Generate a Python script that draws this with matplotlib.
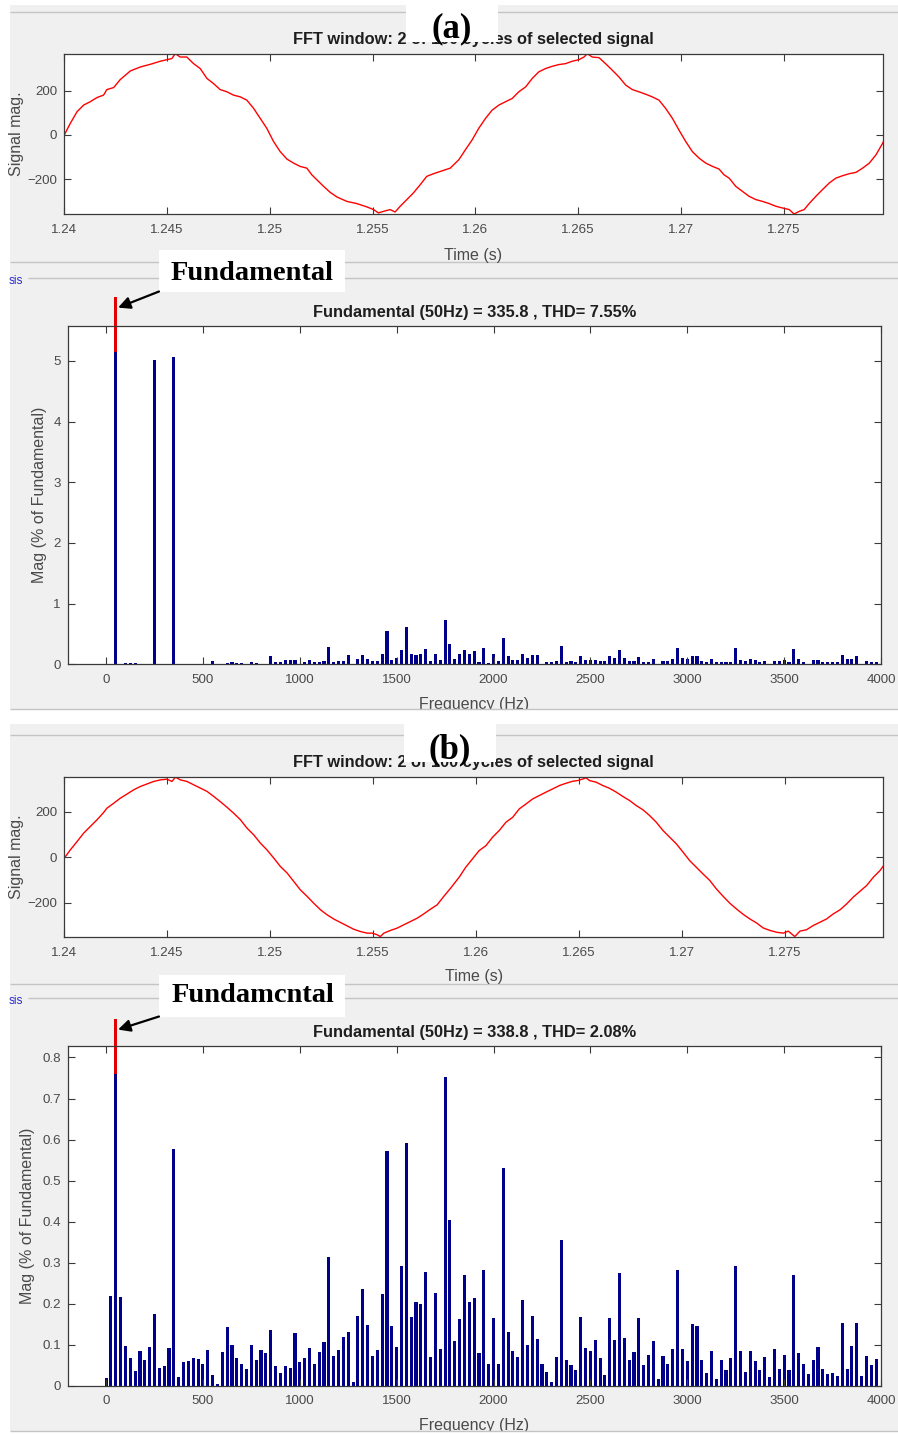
import numpy as np
import matplotlib
matplotlib.use("Agg")
import matplotlib.pyplot as plt
from matplotlib.patches import Rectangle
from matplotlib.ticker import FuncFormatter

plt.rcParams['font.family'] = ['Liberation Sans', 'DejaVu Sans']

# ---------------------------------------------------------------- data
T_START, T_END = 1.24, 1.2798
TIME_TICKS = [1.24, 1.245, 1.25, 1.255, 1.26, 1.265, 1.27, 1.275]
SIG_TICKS = [-200, 0, 200]

# (a) sampled signal: time after 1.24 s in ms, magnitude
SIG_A_MS = [0.00, 0.29, 0.62, 0.94, 1.26, 1.59, 1.91, 2.07, 2.40, 2.72,
            3.21, 3.70, 4.18, 4.67, 4.99, 5.23, 5.40, 5.64, 5.96, 6.29,
            6.61, 6.94, 7.26, 7.58, 7.91, 8.23, 8.56, 8.88, 9.21, 9.53,
            9.85, 10.18, 10.50, 10.83, 11.15, 11.47, 11.80, 12.04, 12.28, 12.61,
            12.93, 13.26, 13.74, 14.23, 14.72, 15.04, 15.28, 15.53, 15.85, 16.09,
            16.34, 16.66, 16.98, 17.31, 17.63, 17.96, 18.28, 18.77,
            19.19, 19.51, 19.84, 20.16, 20.49, 20.81, 21.14, 21.46, 21.79,
            22.11, 22.44, 22.76, 23.08, 23.41, 23.73, 24.06, 24.38, 24.71, 25.03,
            25.28, 25.44, 25.68, 26.01, 26.33, 26.66, 26.98, 27.31, 27.63, 27.95,
            28.28, 28.60, 28.93, 29.25, 29.58, 29.90, 30.23, 30.55, 30.88, 31.20,
            31.53, 31.85, 32.09, 32.34, 32.66, 32.99, 33.31, 33.64, 33.96, 34.29,
            34.61, 34.94, 35.26, 35.50, 35.75, 35.99, 36.23, 36.56, 36.88, 37.21,
            37.53, 37.86, 38.18, 38.51, 38.83, 39.16, 39.48, 39.81, 39.97]
SIG_A = [0, 52, 105, 135, 150, 169, 180, 205, 214, 250,
         289, 307, 319, 333, 340, 345, 367, 352, 352, 322,
         300, 255, 232, 205, 195, 180, 172, 157, 120, 75,
         30, -30, -75, -109, -127, -142, -150, -180, -202, -232,
         -259, -280, -300, -310, -325, -337, -352, -345, -337, -348,
         -322, -292, -262, -225, -187, -175, -165, -150,
         -112, -67, -22, 30, 75, 112, 135, 150, 165,
         195, 217, 255, 285, 300, 310, 318, 322, 333, 340,
         352, 367, 352, 349, 322, 292, 262, 225, 205, 195,
         184, 172, 157, 120, 75, 22, -30, -75, -105, -127,
         -142, -154, -180, -195, -232, -255, -277, -292, -300, -310,
         -322, -330, -337, -357, -345, -337, -310, -277, -247, -217,
         -195, -184, -175, -169, -150, -127, -90, -37, -4]

# (b) sampled signal: time after 1.24 s in ms, magnitude
SIG_B_MS = [0.00, 0.29, 0.62, 0.94, 1.26, 1.59, 1.91, 2.07, 2.40, 2.72,
            3.05, 3.37, 3.70, 4.02, 4.34, 4.67, 4.99, 5.23, 5.40, 5.64,
            5.96, 6.29, 6.61, 6.94, 7.26, 7.58, 7.91, 8.23, 8.56, 8.88,
            9.21, 9.53, 9.85, 10.18, 10.50, 10.83, 11.15, 11.47, 11.80, 12.12,
            12.45, 12.77, 13.10, 13.42, 13.74, 14.07, 14.39, 14.72, 14.96, 15.20,
            15.36, 15.53, 15.85, 16.17, 16.50, 16.82, 17.15, 17.47, 17.80, 18.12,
            18.44, 18.77,
            19.19, 19.51, 19.84, 20.16, 20.49, 20.81, 21.14, 21.46, 21.79, 22.11,
            22.44, 22.76, 23.08, 23.41, 23.73, 24.06, 24.38, 24.71, 24.95, 25.20,
            25.36, 25.52, 25.84, 26.17, 26.49, 26.82, 27.14, 27.47, 27.79, 28.12,
            28.44, 28.77, 29.09, 29.42, 29.74, 30.07, 30.39, 30.71, 31.04, 31.37,
            31.69, 32.01, 32.34, 32.66, 32.99, 33.31, 33.64, 33.96, 34.29, 34.61,
            34.94, 35.18, 35.34, 35.50, 35.75, 36.07, 36.40, 36.72, 37.05, 37.37,
            37.70, 38.02, 38.34, 38.67, 38.99, 39.32, 39.64, 39.97]
SIG_B = [-4, 32, 69, 106, 135, 165, 197, 216, 238, 260,
         279, 297, 312, 323, 334, 341, 344, 334, 353, 341,
         334, 319, 304, 290, 268, 245, 220, 194, 165, 128,
         98, 62, 32, -4, -41, -70, -107, -144, -173, -203,
         -232, -254, -273, -288, -303, -318, -328, -335, -335, -342,
         -350, -335, -323, -313, -298, -284, -269, -250, -229, -210,
         -173, -137,
         -88, -44, -7, 29, 51, 88, 118, 154, 176, 213,
         235, 257, 272, 287, 301, 316, 326, 335, 338, 345,
         350, 338, 331, 316, 304, 287, 268, 250, 228, 209,
         184, 154, 118, 88, 59, 22, -15, -44, -74, -103,
         -140, -172, -203, -228, -252, -272, -290, -312, -323, -331,
         -335, -326, -338, -350, -326, -320, -301, -287, -272, -250,
         -232, -206, -176, -150, -125, -88, -59, -18]

# harmonic spectrum, bins every 25 Hz from 0 to 3975 Hz (% of fundamental)
FREQ_STEP = 25
FUND_HZ = 50
MAG_A = [0, 0, 5.15, 0, 0.025, 0.025, 0.025, 0, 0, 0,
         5.02, 0, 0, 0, 5.07, 0, 0, 0, 0, 0,
         0, 0, 0.06, 0, 0, 0.018, 0.033, 0.022, 0.022, 0,
         0.038, 0.022, 0, 0, 0.13, 0.033, 0.038, 0.066, 0.071, 0.071,
         0, 0.044, 0.066, 0.044, 0.03, 0.055, 0.29, 0.044, 0.06, 0.06,
         0.16, 0, 0.088, 0.16, 0.08, 0.055, 0.055, 0.165, 0.55, 0.066,
         0.11, 0.23, 0.615, 0.165, 0.15, 0.165, 0.25, 0.055, 0.165, 0.077,
         0.725, 0.33, 0.088, 0.165, 0.23, 0.165, 0.22, 0.044, 0.27, 0.022,
         0.165, 0.055, 0.44, 0.13, 0.077, 0.077, 0.165, 0.11, 0.15, 0.15,
         0.01, 0.033, 0.033, 0.055, 0.30, 0.044, 0.055, 0.044, 0.143, 0.077,
         0.077, 0.066, 0.055, 0.055, 0.143, 0.11, 0.24, 0.11, 0.055, 0.055,
         0.12, 0.044, 0.044, 0.082, 0, 0.055, 0.055, 0.082, 0.27, 0.11,
         0.088, 0.143, 0.13, 0.055, 0.044, 0.088, 0.033, 0.033, 0.033, 0.033,
         0.27, 0.066, 0.055, 0.082, 0.066, 0.044, 0.055, 0, 0.055, 0.055,
         0.077, 0.044, 0.25, 0.088, 0.044, 0, 0.066, 0.066, 0.033, 0.033,
         0.033, 0.044, 0.148, 0.082, 0.088, 0.143, 0, 0.055, 0.044, 0.044]
MAG_B = [0.018, 0.2185, 0.76, 0.215, 0.0975, 0.068, 0.0366, 0.0845, 0.063, 0.095,
         0.175, 0.044, 0.049, 0.092, 0.576, 0.020, 0.057, 0.060, 0.068, 0.065,
         0.052, 0.087, 0.025, 0.004, 0.082, 0.142, 0.10, 0.068, 0.052, 0.041,
         0.10, 0.0625, 0.087, 0.079, 0.135, 0.049, 0.031, 0.047, 0.044, 0.129,
         0.057, 0.068, 0.092, 0.054, 0.082, 0.106, 0.3135, 0.073, 0.087, 0.119,
         0.132, 0.01, 0.17, 0.236, 0.149, 0.073, 0.087, 0.223, 0.573, 0.145,
         0.095, 0.292, 0.592, 0.1665, 0.204, 0.2, 0.276, 0.071, 0.225, 0.089,
         0.752, 0.405, 0.109, 0.162, 0.269, 0.204, 0.213, 0.079, 0.282, 0.052,
         0.164, 0.052, 0.531, 0.1316, 0.0845, 0.0707, 0.209, 0.10, 0.17, 0.114,
         0.052, 0.033, 0.009, 0.0707, 0.355, 0.0625, 0.0495, 0.039, 0.1665, 0.0926,
         0.0845, 0.111, 0.068, 0.025, 0.164, 0.111, 0.274, 0.116, 0.063, 0.082,
         0.164, 0.0495, 0.076, 0.108, 0.017, 0.073, 0.052, 0.089, 0.282, 0.089,
         0.060, 0.1495, 0.145, 0.063, 0.031, 0.0845, 0.017, 0.063, 0.039, 0.068,
         0.292, 0.0845, 0.033, 0.0845, 0.06, 0.039, 0.0707, 0.020, 0.089, 0.041,
         0.076, 0.039, 0.269, 0.079, 0.052, 0.028, 0.0625, 0.095, 0.041, 0.028,
         0.031, 0.023, 0.152, 0.041, 0.0975, 0.154, 0.023, 0.073, 0.0495, 0.065]
# the fundamental bar runs past the axes; red marks the part above the harmonics
FUND_TOP_A = 6.06
FUND_TOP_B = 0.895

FREQ_TICKS = [0, 500, 1000, 1500, 2000, 2500, 3000, 3500, 4000]
MAG_TICKS_A = [0, 1, 2, 3, 4, 5]
MAG_TICKS_B = [0, 0.1, 0.2, 0.3, 0.4, 0.5, 0.6, 0.7, 0.8]

TITLE_TIME = "FFT window: 2 of 100 cycles of selected signal"
TITLE_FFT_A = "Fundamental (50Hz) = 335.8 , THD= 7.55%"
TITLE_FFT_B = "Fundamental (50Hz) = 338.8 , THD= 2.08%"

# ---------------------------------------------------------------- style
PANEL = '#f0f0f0'
SEP = '#c4c4c4'
AXC = '#3a3a3a'
TICKC = '#4a4a4a'
NAVY = '#00008b'
RED = '#e00000'
BAR_W = 16

W, H = 898, 1434
fig = plt.figure(figsize=(W / 100, H / 100), dpi=100)
fig.patch.set_facecolor('white')


def px_axes(l, t, r, b, **kw):
    return fig.add_axes([l / W, 1 - b / H, (r - l) / W, (b - t) / H], **kw)


bg = px_axes(0, 0, W, H, zorder=-10)
fg = px_axes(0, 0, W, H, zorder=10)
for a in (bg, fg):
    a.set_xlim(0, W)
    a.set_ylim(H, 0)
    a.axis('off')

# GUI panel backgrounds and separators
for top, bot in ((5, 709), (724, 1434)):
    bg.add_patch(Rectangle((10, top), W - 10, bot - top, fc=PANEL, ec='none'))
bg.hlines([12, 262, 735, 984], 10, W, color=SEP, lw=1.0)
bg.hlines([278, 998], 28, W, color=SEP, lw=1.0)
for y in (281, 1001):
    bg.text(9, y, 'sis', color='#2a2ad0', fontsize=8.5, va='center', ha='left')


def style(ax):
    ax.set_facecolor('white')
    for s in ax.spines.values():
        s.set_color(AXC)
        s.set_linewidth(0.9)
    ax.tick_params(direction='in', length=5, width=0.8, color=AXC,
                   labelcolor=TICKC, labelsize=9.6, top=True, right=True)
    ax.tick_params(axis='x', pad=7)
    ax.tick_params(axis='y', pad=5)


def time_panel(box, ms, vals, ylim, title_y, xlabel_y, ylabel_x):
    ax = px_axes(*box)
    ax.plot(T_START + np.asarray(ms) / 1000.0, vals, color='#ff0000', lw=1.0)
    ax.set_xlim(T_START, T_END)
    ax.set_ylim(*ylim)
    ax.set_xticks(TIME_TICKS)
    ax.xaxis.set_major_formatter(FuncFormatter(lambda v, p: f"{v:g}"))
    ax.set_yticks(SIG_TICKS)
    style(ax)
    ax.set_xlabel('Time (s)', fontsize=11.5, color=TICKC)
    ax.xaxis.set_label_coords(0.5, xlabel_y)
    ax.xaxis.label.set_va('center')
    ax.set_ylabel('Signal mag.', fontsize=11.5, color=TICKC)
    ax.yaxis.set_label_coords(ylabel_x, 0.5)
    ax.yaxis.label.set_va('center')
    ax.text(0.5, title_y, TITLE_TIME, transform=ax.transAxes, ha='center',
            va='center', fontsize=11.8, fontweight='bold', color='#1e1e1e')
    return ax


def fft_panel(box, mags, fund_top, ytop, yticks, title, title_y, xlabel_y, ylabel_x):
    ax = px_axes(*box)
    freqs = np.arange(len(mags)) * FREQ_STEP
    ax.bar(freqs, mags, width=BAR_W, color=NAVY, linewidth=0)
    k = FUND_HZ // FREQ_STEP
    ax.bar(FUND_HZ, fund_top - mags[k], bottom=mags[k], width=BAR_W,
           color=RED, linewidth=0, clip_on=False)
    ax.set_xlim(-198, 4000)
    ax.set_ylim(0, ytop)
    ax.set_xticks(FREQ_TICKS)
    ax.set_yticks(yticks)
    ax.yaxis.set_major_formatter(FuncFormatter(lambda v, p: f"{v:g}"))
    style(ax)
    ax.set_xlabel('Frequency (Hz)', fontsize=11.5, color=TICKC)
    ax.xaxis.set_label_coords(0.5, xlabel_y)
    ax.xaxis.label.set_va('center')
    ax.set_ylabel('Mag (% of Fundamental)', fontsize=11.5, color=TICKC)
    ax.yaxis.set_label_coords(ylabel_x, 0.5)
    ax.yaxis.label.set_va('center')
    ax.text(0.5, title_y, title, transform=ax.transAxes, ha='center',
            va='center', fontsize=11.8, fontweight='bold', color='#1e1e1e')
    return ax


time_panel((64.3, 53.7, 882.5, 214), SIG_A_MS, SIG_A, (-357, 367), 1.0855, -0.256, -0.059)
fa = fft_panel((67.7, 325.7, 881, 664.3), MAG_A, FUND_TOP_A, 5.58, MAG_TICKS_A,
               TITLE_FFT_A, 1.0396, -0.120, -0.035)
time_panel((64.3, 776.7, 883.3, 937), SIG_B_MS, SIG_B, (-352, 355), 1.087, -0.246, -0.058)
fb = fft_panel((67.7, 1046, 881, 1385.7), MAG_B, FUND_TOP_B, 0.828, MAG_TICKS_B,
               TITLE_FFT_B, 1.0403, -0.1166, -0.0494)

# white gaps between the two GUI screens (they trim the frequency labels)
fg.add_patch(Rectangle((0, 709.5), W, 14, fc='white', ec='none'))
fg.add_patch(Rectangle((0, 1431), W, 3, fc='white', ec='none'))
fg.hlines([709], 10, W, color=SEP, lw=1.0)
fg.hlines([1430.5], 10, W, color=SEP, lw=1.0)

# panel tags
for (x0, y0, yb, tag) in ((406, 0, 37, '(a)'), (404, 720, 758, '(b)')):
    fg.add_patch(Rectangle((x0, y0), 92, 42, fc='white', ec='none'))
    fg.text(x0 + 46, yb, tag, ha='center', va='baseline', fontsize=25,
            fontweight='bold', family=['Liberation Serif', 'DejaVu Serif'], color='black')

# "Fundamental" call-outs pointing at the red part of the 50 Hz bar
for ax, mags, top, (by, base), word in ((fa, MAG_A, FUND_TOP_A, (250, 280), 'Fundamental'),
                                       (fb, MAG_B, FUND_TOP_B, (975, 1001.5), 'Fundamcntal')):
    fg.add_patch(Rectangle((159, by), 186, 41.5, fc='white', ec='none'))
    fg.text(252.5, base, word, ha='center', va='baseline', fontsize=20.5,
            fontweight='bold', family=['Liberation Serif', 'DejaVu Serif'], color='black')
    blue = mags[FUND_HZ // FREQ_STEP]
    fg.annotate('', xy=(FUND_HZ + 12, blue + 0.8 * (top - blue)), xycoords=ax.transData,
                xytext=(159, by + 41.5), textcoords='data',
                arrowprops=dict(arrowstyle='-|>', color='black', lw=1.6,
                                mutation_scale=18, shrinkA=0, shrinkB=0))

fig.savefig('out.png', dpi=100, facecolor=fig.get_facecolor())
